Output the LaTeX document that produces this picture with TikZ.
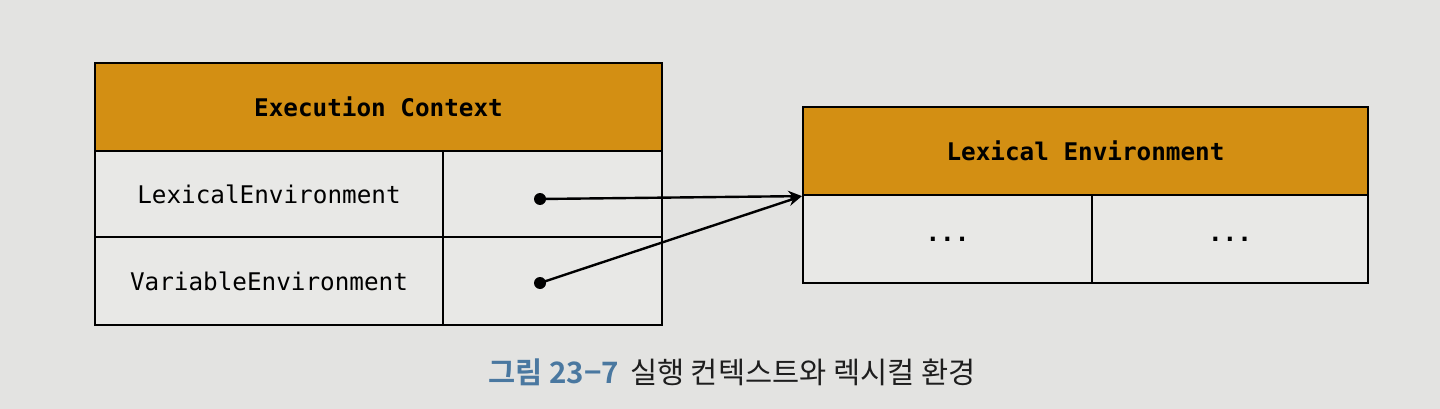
\documentclass[tikz,border=0pt]{standalone}
\usepackage{fontspec}
\setmonofont{DejaVu Sans Mono}
\newfontfamily\krfont{Noto Sans CJK KR}
\newfontfamily\krfontb{Noto Sans CJK KR}[BoldFont={* Bold}]
\usetikzlibrary{arrows.meta}
\definecolor{bgc}{HTML}{E3E3E1}
\definecolor{cellc}{HTML}{E8E8E6}
\definecolor{headc}{HTML}{D38F13}
\definecolor{capblue}{HTML}{4A78A0}
\definecolor{captext}{HTML}{1E1E1E}
\tikzset{
  cell/.style={draw=black, line width=2.2pt, fill=cellc, inner sep=0pt, font=\ttfamily\fontsize{24.3}{28}\selectfont, text=black},
  headcell/.style={cell, fill=headc, font=\ttfamily\bfseries\fontsize{24.3}{28}\selectfont},
  ptr/.style={line width=2.4pt, -{Stealth[length=14pt,width=11pt]}},
  dotc/.style={circle, fill=black, inner sep=0pt, minimum size=12pt}
}
\begin{document}
\begin{tikzpicture}[x=1pt,y=-1pt]
\useasboundingbox[fill=bgc] (0,0) rectangle (1440,409);
% left table
\node[headcell, minimum width=567pt, minimum height=88pt] (ech) at (378.5,107) {Execution Context};
\node[cell, minimum width=348pt, minimum height=86pt] (lel) at (269,194) {LexicalEnvironment};
\node[cell, minimum width=219pt, minimum height=86pt] (ler) at (552.5,194) {};
\node[cell, minimum width=348pt, minimum height=88pt] (vel) at (269,281) {VariableEnvironment};
\node[cell, minimum width=219pt, minimum height=88pt] (ver) at (552.5,281) {};
% right table
\node[headcell, minimum width=565pt, minimum height=88pt] (leh) at (1085.5,151) {Lexical Environment};
\node[cell, minimum width=289pt, minimum height=88pt, font=\ttfamily\bfseries\fontsize{24.3}{28}\selectfont] (r1) at (947.5,239) {...};
\node[cell, minimum width=276pt, minimum height=88pt, font=\ttfamily\bfseries\fontsize{24.3}{28}\selectfont] (r2) at (1230,239) {...};
% pointers
\node[dotc] (d1) at (540,199) {};
\node[dotc] (d2) at (540,283) {};
\coordinate (tgt) at (leh.south west);
\draw[ptr] (d1.center) -- (tgt);
\draw[ptr] (d2.center) -- (tgt);
% caption
\node[inner sep=0pt, font=\fontsize{29.5}{32}\selectfont] (cap) at (732,372)
  {{\krfontb\bfseries\color{capblue}그림 23−7}\hspace{11pt}{\krfont\color{captext}실행 컨텍스트와 렉시컬 환경}};
\end{tikzpicture}
\end{document}
